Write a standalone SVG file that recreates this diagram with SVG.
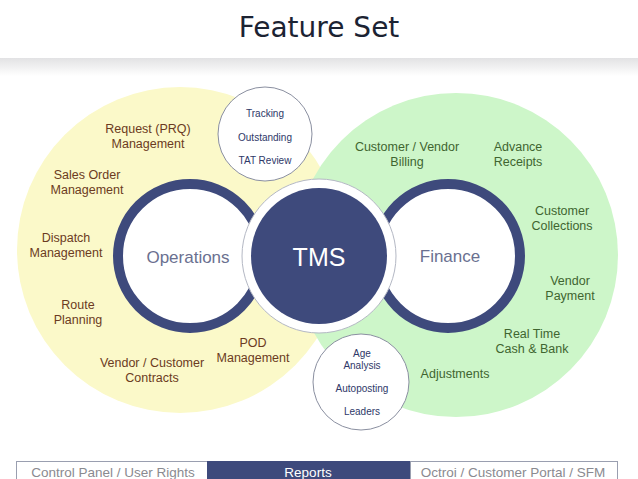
<svg xmlns="http://www.w3.org/2000/svg" width="638" height="479" viewBox="0 0 638 479">
  <defs>
    <linearGradient id="shadow" x1="0" y1="0" x2="0" y2="1">
      <stop offset="0" stop-color="#e2e2e4"/>
      <stop offset="1" stop-color="#ffffff"/>
    </linearGradient>
    <style>
      .title { font-family: "DejaVu Sans", sans-serif; font-size: 28px; fill: #1c2333; text-anchor: middle; }
      .ops { font-family: "Liberation Sans", Arial, sans-serif; font-size: 12.5px; fill: #6b3b22; text-anchor: middle; }
      .fin { font-family: "Liberation Sans", Arial, sans-serif; font-size: 12.5px; fill: #3f6530; text-anchor: middle; }
      .sm { font-family: "Liberation Sans", Arial, sans-serif; font-size: 10px; fill: #2e3868; text-anchor: middle; }
      .big { font-family: "Liberation Sans", Arial, sans-serif; font-size: 17px; fill: #6a7090; text-anchor: middle; }
      .tms { font-family: "Liberation Sans", Arial, sans-serif; font-size: 25px; fill: #ffffff; text-anchor: middle; }
      .ring { fill: #ffffff; stroke: #3e4a7c; stroke-width: 10; }
      .bubble { fill: #ffffff; stroke: #8a8fa0; stroke-width: 1; }
      .bar { fill: #ffffff; stroke: #9a9fb0; stroke-width: 1; }
      .bartxt { font-family: "Liberation Sans", Arial, sans-serif; font-size: 13.5px; fill: #8a8a90; text-anchor: middle; }
    </style>
  </defs>

  <rect x="0" y="0" width="638" height="479" fill="#ffffff"/>
  <rect x="0" y="58" width="638" height="18" fill="url(#shadow)"/>
  <text class="title" x="319" y="37">Feature Set</text>

  <g id="operations-area">
    <circle cx="180" cy="250" r="163" fill="#fbf9c9"/>
  </g>
  <g id="finance-area">
    <circle cx="456" cy="255" r="162" fill="#cdf6c9"/>
  </g>

  <g id="operations">
    <circle class="ring" cx="190" cy="256" r="72"/>
    <text class="big" x="188" y="263">Operations</text>
  </g>
  <g id="finance">
    <circle class="ring" cx="448" cy="256" r="72"/>
    <text class="big" x="450" y="262">Finance</text>
  </g>
  <g id="tms">
    <circle cx="319" cy="256" r="77" fill="#ffffff" stroke="#b4b8c4" stroke-width="1"/>
    <circle cx="319" cy="256" r="68" fill="#3e4a7c"/>
    <text class="tms" x="319" y="266">TMS</text>
  </g>

  <g id="tracking-bubble">
    <circle class="bubble" cx="265" cy="134" r="47"/>
    <text class="sm" x="265" y="116.5">Tracking</text>
    <text class="sm" x="265" y="140.5">Outstanding</text>
    <text class="sm" x="265" y="163.5">TAT Review</text>
  </g>
  <g id="age-bubble">
    <circle class="bubble" cx="361" cy="382" r="48"/>
    <text class="sm" x="362" y="356.5">Age</text>
    <text class="sm" x="362" y="368.5">Analysis</text>
    <text class="sm" x="362" y="391.5">Autoposting</text>
    <text class="sm" x="362" y="414.5">Leaders</text>
  </g>

  <g id="ops-labels">
    <text class="ops" x="148" y="132.5">Request (PRQ)</text>
    <text class="ops" x="148" y="147.5">Management</text>
    <text class="ops" x="87" y="178.5">Sales Order</text>
    <text class="ops" x="87" y="193.5">Management</text>
    <text class="ops" x="66" y="241.5">Dispatch</text>
    <text class="ops" x="66" y="256.5">Management</text>
    <text class="ops" x="78" y="308.5">Route</text>
    <text class="ops" x="78" y="323.5">Planning</text>
    <text class="ops" x="152" y="366.5">Vendor / Customer</text>
    <text class="ops" x="152" y="381.5">Contracts</text>
    <text class="ops" x="253" y="346.5">POD</text>
    <text class="ops" x="253" y="361.5">Management</text>
  </g>
  <g id="fin-labels">
    <text class="fin" x="407" y="150.5">Customer / Vendor</text>
    <text class="fin" x="407" y="165.5">Billing</text>
    <text class="fin" x="518" y="150.5">Advance</text>
    <text class="fin" x="518" y="165.5">Receipts</text>
    <text class="fin" x="562" y="214.5">Customer</text>
    <text class="fin" x="562" y="229.5">Collections</text>
    <text class="fin" x="570" y="284.5">Vendor</text>
    <text class="fin" x="570" y="299.5">Payment</text>
    <text class="fin" x="532" y="337.5">Real Time</text>
    <text class="fin" x="532" y="352.5">Cash &amp; Bank</text>
    <text class="fin" x="455" y="377.5">Adjustments</text>
  </g>

  <g id="connectors"></g>

  <g id="bottom-bar">
    <rect class="bar" x="16.5" y="461.5" width="191" height="20"/>
    <rect x="207" y="461" width="203" height="20" fill="#3e4a7c"/>
    <rect class="bar" x="410.5" y="461.5" width="207" height="20"/>
    <text class="bartxt" x="113" y="477">Control Panel / User Rights</text>
    <text class="bartxt" x="308" y="477" style="fill:#ffffff">Reports</text>
    <text class="bartxt" x="513" y="477">Octroi  / Customer Portal / SFM</text>
  </g>
</svg>
